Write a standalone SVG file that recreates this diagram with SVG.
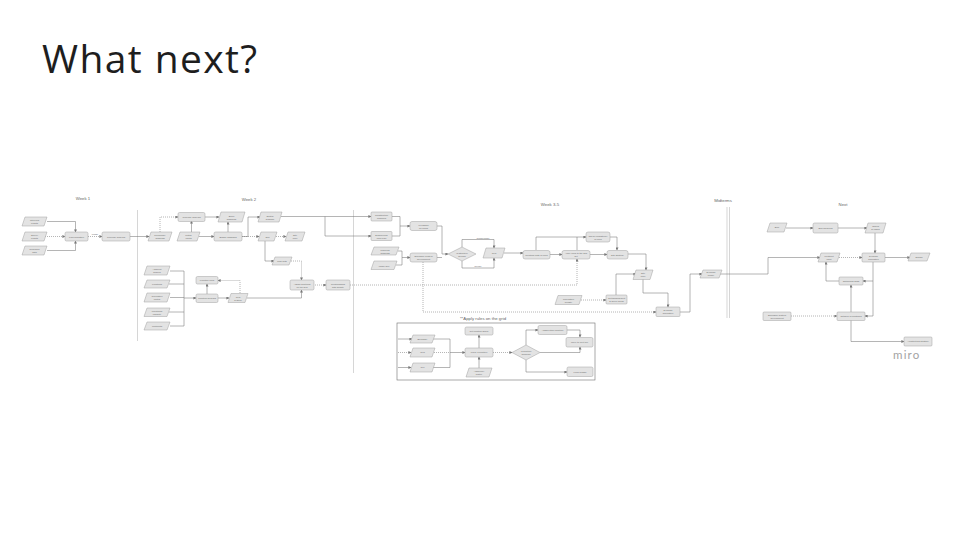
<svg xmlns="http://www.w3.org/2000/svg" width="960" height="540" viewBox="0 0 960 540">
<defs>
<marker id="ah" markerWidth="3" markerHeight="3" refX="2.6" refY="1.5" orient="auto" markerUnits="userSpaceOnUse"><path d="M0,0 L3,1.5 L0,3 z" fill="#777"/></marker>
<style>
.r{fill:#e3e3e3;stroke:#a0a0a0;stroke-width:0.5}
.p{fill:#e3e3e3;stroke:#a0a0a0;stroke-width:0.5}
.t{font-family:"Liberation Sans",Arial,sans-serif;font-size:2.3px;fill:#6a6a6a;text-anchor:middle}
.h{font-family:"Liberation Sans",Arial,sans-serif;font-size:4.3px;fill:#666;text-anchor:middle}
.c path{fill:none;stroke:#777;stroke-width:0.55}
.c .a{marker-end:url(#ah)}
.c .d{stroke-dasharray:1 1}
.dv{stroke:#c4c4c4;stroke-width:0.7}
</style>
</defs>
<rect width="960" height="540" fill="#fff"/>
<text x="42" y="73" font-family="'Open Sans',Lato,sans-serif" font-size="39" letter-spacing="1.4" fill="#1e1e1e">What next?</text>

<g id="dividers">
<line class="dv" x1="137.5" y1="210" x2="137.5" y2="341"/>
<line class="dv" x1="353.5" y1="210" x2="353.5" y2="373"/>
<line class="dv" x1="727" y1="207" x2="727" y2="318"/>
<line class="dv" x1="729.5" y1="207" x2="729.5" y2="318"/>
</g>
<g id="headers">
<text class="h" x="83" y="200">Week 1</text>
<text class="h" x="249" y="201">Week 2</text>
<text class="h" x="550" y="206">Week 3-5</text>
<text class="h" x="723" y="202">Midterms</text>
<text class="h" x="843" y="206">Next</text>
<text class="h" x="483" y="320" font-size="3.6">**Apply rules on the grid</text>
</g>

<g class="c" id="connectors">
<path class="a" d="M47,221.5 H75.5 V232"/>
<path class="a d" d="M45,236.5 H65"/>
<path class="a" d="M47,250.5 H75.5 V241"/>
<path class="a d" d="M88,236.5 H102"/>
<path class="a" d="M130,236.5 H149"/>
<path class="a d" d="M160,232 V217 H178"/>
<path class="a" d="M191.5,232 V221"/>
<path class="a" d="M199,236.5 H214"/>
<path class="a" d="M228,232 V222"/>
<path class="a" d="M205,217 H219"/>
<path class="a" d="M242,236.5 H248 V217 H260"/>
<path class="a d" d="M242,236.5 H259"/>
<path class="a d" d="M276,236.5 H286"/>
<path class="a" d="M265,241 V261 H274"/>
<path class="a d" d="M291,261 H301.5 V280"/>
<path class="a" d="M281,216.5 H371"/>
<path class="a" d="M325,216.5 V236 H371"/>
<path d="M170,271 H184 M169,284 H184 M170,297.5 H184 M169,312 H184 M170,326 H184 M184,271 V326"/>
<path class="a" d="M184,298 H196"/>
<path class="a" d="M207,294 V284"/>
<path class="a" d="M218,298 H229"/>
<path class="a d" d="M240,293 V280.5 H218"/>
<path class="a" d="M247,298 H301.5 V290"/>
<path class="a d" d="M313,285 H326"/>
<path class="a d" d="M350,285 H577 V259"/>
<path class="a" d="M392,216.5 H400 V226 H410"/>
<path d="M392,236 H400 V226"/>
<path class="a" d="M398,251 H402 V257.5 H410"/>
<path d="M396,265 H402 V257.5"/>
<path class="a" d="M437,226 H442 V254 H448"/>
<path d="M437,257.5 H442"/>
<path class="a" d="M462,247 V239.5 H494 V248"/>
<path class="a" d="M462,261 V268 H494 V258"/>
<path class="a" d="M504,253 H523"/>
<path class="a" d="M550,254.5 H562"/>
<path class="a" d="M590,254.5 H607"/>
<path class="a" d="M536,250 V237 H586"/>
<path d="M577,250 V237"/>
<path class="a" d="M610,237 H617 V250"/>
<path class="a" d="M627,254 H646 V270"/>
<path class="a" d="M643,279 V293 H668 V307"/>
<path class="a" d="M616,295 V274 H636"/>
<path class="a d" d="M581,300 H606"/>
<path class="a" d="M680,312 H690 V274 H702"/>
<path class="a d" d="M423,262 V312 H656"/>
<path class="a" d="M719,274 H768 V257.5 H820"/>
<path class="a" d="M398,339 H412"/>
<path class="a d" d="M398,352.5 H411"/>
<path class="a" d="M398,367.5 H411"/>
<path class="a" d="M433,339 H450 V352.5 H465"/>
<path d="M432,367.5 H450 V352.5"/>
<path class="d" d="M432,352.5 H450"/>
<path class="a" d="M479,348 V335"/>
<path class="a" d="M479,368 V357"/>
<path class="a d" d="M493,352.5 H512"/>
<path class="a" d="M526,345 V330 H538"/>
<path class="a" d="M540,352.5 H580 V347"/>
<path class="a" d="M567,330 H580 V337"/>
<path class="a" d="M526,360 V372 H567"/>
<path class="a" d="M786,228 H813"/>
<path class="a" d="M838,228 H867"/>
<path class="a" d="M875,233 V253"/>
<path class="a d" d="M839,257.5 H862"/>
<path class="a" d="M885,257.5 H910"/>
<path class="a" d="M873,262 V316 H865"/>
<path class="a" d="M873,281 H863"/>
<path class="a" d="M839,281 H826 V262"/>
<path class="a" d="M851,312 V285"/>
<path class="a d" d="M791,316 H837"/>
<path class="a" d="M851,320 V341.5 H904"/>
</g>
<g id="edge-labels">
<text class="t" x="95" y="235">phase</text>
<text class="t" x="483" y="238.5">Compromise</text>
<text class="t" x="478" y="267">Revise</text>
</g>

<g id="w1a"><polygon class="p" points="25,217 47,217 44,226 22,226"/><text class="t" x="34.5" y="221">Interview</text><text class="t" x="34.5" y="224">results</text></g>
<g id="w1b"><polygon class="p" points="25,232 47,232 44,241 22,241"/><text class="t" x="34.5" y="236">Survey</text><text class="t" x="34.5" y="239">results</text></g>
<g id="w1c"><polygon class="p" points="25,246 47,246 44,255 22,255"/><text class="t" x="34.5" y="250">Research</text><text class="t" x="34.5" y="253">data</text></g>
<g id="w1d"><rect class="r" x="65" y="232" width="23" height="9" rx="1.5"/><text class="t" x="76.5" y="237.5">Pain formation</text></g>
<g id="w1e"><rect class="r" x="102" y="232" width="28" height="9" rx="1.5"/><text class="t" x="116" y="237.5">Typology analysis</text></g>

<g id="t1"><rect class="r" x="178" y="212.5" width="27" height="9" rx="1.5"/><text class="t" x="191.5" y="218">Typology analysis</text></g>
<g id="t2"><polygon class="p" points="221,212 245,212 242,222 218,222"/><text class="t" x="231.5" y="216.5">Block</text><text class="t" x="231.5" y="219.5">diagrams</text></g>
<g id="t3"><polygon class="p" points="151,232 172,232 169,241 148,241"/><text class="t" x="160" y="236">Preliminary</text><text class="t" x="160" y="239">drawings</text></g>
<g id="t4"><polygon class="p" points="180,232 200,232 197,241 177,241"/><text class="t" x="188.5" y="236">Match</text><text class="t" x="188.5" y="239">inputs</text></g>
<g id="t5"><rect class="r" x="214" y="232" width="28" height="9" rx="1.5"/><text class="t" x="228" y="237.5">Bubble diagrams</text></g>
<g id="t6"><polygon class="p" points="261,212 282,212 279,222 258,222"/><text class="t" x="270" y="216.5">Spatial</text><text class="t" x="270" y="219.5">diagram</text></g>
<g id="t7"><polygon class="p" points="261,232 277,232 274,241 258,241"/><text class="t" x="267.5" y="237.5">Sun</text></g>
<g id="t8"><polygon class="p" points="288,232 305,232 302,241 285,241"/><text class="t" x="295" y="236">Site</text><text class="t" x="295" y="239">plan</text></g>
<g id="t9"><polygon class="p" points="275,257 292,257 289,265 272,265"/><text class="t" x="282" y="262">Plan sets</text></g>
<g id="l1"><polygon class="p" points="147,266 170,266 167,275 144,275"/><text class="t" x="157" y="270">Adjacent</text><text class="t" x="157" y="273">spaces</text></g>
<g id="l2"><polygon class="p" points="147,280 170,280 167,288 144,288"/><text class="t" x="157" y="285">Functions</text></g>
<g id="l3"><polygon class="p" points="147,293 170,293 167,302 144,302"/><text class="t" x="157" y="297">Circulation</text><text class="t" x="157" y="300">routes</text></g>
<g id="l4"><polygon class="p" points="147,308 170,308 167,316.5 144,316.5"/><text class="t" x="157" y="311.5">Functional</text><text class="t" x="157" y="314.5">capacity</text></g>
<g id="l5"><polygon class="p" points="147,322 170,322 167,330 144,330"/><text class="t" x="157" y="327">Footprints</text></g>
<g id="t10"><rect class="r" x="196" y="276.5" width="22" height="7.5" rx="1.5"/><text class="t" x="207" y="281">Function rules</text></g>
<g id="t11"><rect class="r" x="196" y="294" width="22" height="8.5" rx="1.5"/><text class="t" x="207" y="299">Function analysis</text></g>
<g id="t12"><polygon class="p" points="231,293.5 248,293.5 245,302.5 228,302.5"/><text class="t" x="238" y="297.5">Grid</text><text class="t" x="238" y="300.5">system</text></g>
<g id="t13"><rect class="r" x="290" y="280" width="24" height="10" rx="1.5"/><text class="t" x="302" y="284.5">Assign functions</text><text class="t" x="302" y="287.5">on the grid</text></g>
<g id="t14"><rect class="r" x="326" y="280" width="24" height="10" rx="1.5"/><text class="t" x="338" y="284.5">Relationships</text><text class="t" x="338" y="287.5">with density</text></g>

<g id="u1"><rect class="r" x="371" y="212" width="21" height="9" rx="1"/><text class="t" x="381.5" y="216">Construction</text><text class="t" x="381.5" y="219">mapping</text></g>
<g id="u2"><rect class="r" x="371" y="231.5" width="21" height="9" rx="1"/><text class="t" x="381.5" y="235.5">Engineering</text><text class="t" x="381.5" y="238.5">floor plan</text></g>
<g id="u3"><rect class="r" x="410" y="221.5" width="27" height="9" rx="2"/><text class="t" x="423.5" y="225.5">Feedback</text><text class="t" x="423.5" y="228.5">on floors</text></g>
<g id="u4"><polygon class="p" points="374,247 399,247 396,255 371,255"/><text class="t" x="385" y="250.5">Planning</text><text class="t" x="385" y="253.5">drawings</text></g>
<g id="u5"><polygon class="p" points="374,261 397,261 394,269.5 371,269.5"/><text class="t" x="384" y="266.5">Model gen</text></g>
<g id="u6"><rect class="r" x="410" y="253" width="27" height="9" rx="2"/><text class="t" x="423.5" y="257">Enclosure system</text><text class="t" x="423.5" y="260">development</text></g>
<g id="d1"><polygon class="p" points="448,254 462,247 476,254 462,261"/><text class="t" x="462" y="253.5">Is structure</text><text class="t" x="462" y="256.5">sound?</text></g>
<g id="u7"><polygon class="p" points="486,248 505,248 502,258 483,258"/><text class="t" x="494" y="254">Grid</text></g>
<g id="r1"><rect class="r" x="523" y="250.5" width="27" height="8.5" rx="2"/><text class="t" x="536.5" y="255.5">Creating units of rules</text></g>
<g id="r2"><rect class="r" x="562" y="250.5" width="28" height="8.5" rx="2"/><text class="t" x="576" y="254">Apply rules to the grid</text><text class="t" x="576" y="257">set</text></g>
<g id="r3"><rect class="r" x="607" y="250.5" width="21" height="8.5" rx="2"/><text class="t" x="617.5" y="255.5">Site strategy</text></g>
<g id="r4"><rect class="r" x="586" y="232" width="24" height="10" rx="2"/><text class="t" x="598" y="236.5">Check consistency</text><text class="t" x="598" y="239.5">of rules</text></g>
<g id="r5"><polygon class="p" points="636,270 653,270 650,279.5 633,279.5"/><text class="t" x="643" y="274">Site</text><text class="t" x="643" y="277">plan</text></g>
<g id="r6"><polygon class="p" points="558,295.5 582,295.5 579,304.5 555,304.5"/><text class="t" x="568.5" y="299.5">Population</text><text class="t" x="568.5" y="302.5">density</text></g>
<g id="r7"><rect class="r" x="606" y="295" width="21" height="9" rx="1"/><text class="t" x="616.5" y="299">Juxtaposing built</text><text class="t" x="616.5" y="302">&amp; green areas</text></g>
<g id="r8"><rect class="r" x="656" y="307" width="24" height="9.5" rx="1"/><text class="t" x="668" y="311">Dynamic</text><text class="t" x="668" y="314">simulation</text></g>
<g id="r9"><polygon class="p" points="703,270 722,270 719,278 700,278"/><text class="t" x="711" y="273.3">Dynamic</text><text class="t" x="711" y="276.3">model</text></g>

<g id="apply-rules">
<rect x="397" y="323" width="198" height="57" fill="none" stroke="#6f6f6f" stroke-width="0.6"/>
</g>
<g id="a1"><polygon class="p" points="413,335 435,335 432,343 410,343"/><text class="t" x="422.5" y="339.8">Boundary</text></g>
<g id="a2"><polygon class="p" points="413,348 435,348 432,357 410,357"/><text class="t" x="422.5" y="353.3">Grid</text></g>
<g id="a3"><polygon class="p" points="413,363 435,363 432,372 410,372"/><text class="t" x="422.5" y="368.3">Cell</text></g>
<g id="a4"><rect class="r" x="465" y="327" width="28" height="8" rx="1.5"/><text class="t" x="479" y="331.8">Get function space</text></g>
<g id="a5"><rect class="r" x="465" y="348" width="28" height="9" rx="1.5"/><text class="t" x="479" y="353.3">Place a function</text></g>
<g id="a6"><polygon class="p" points="469,368 492,368 489,377 466,377"/><text class="t" x="479" y="372">Adjacency</text><text class="t" x="479" y="375">matrix</text></g>
<g id="dd"><polygon class="p" points="512,352.5 526,345 540,352.5 526,360"/><text class="t" x="526" y="351.8">Is function</text><text class="t" x="526" y="354.6">allowed?</text></g>
<g id="a7"><rect class="r" x="538" y="325.5" width="29" height="9" rx="1.5"/><text class="t" x="552.5" y="330.8">Assign other function</text></g>
<g id="a8"><rect class="r" x="566" y="337.5" width="27" height="9.5" rx="1.5"/><text class="t" x="579.5" y="343">Move to next cell</text></g>
<g id="a9"><rect class="r" x="567" y="367" width="26" height="9.5" rx="1.5"/><text class="t" x="580" y="372.5">Form design</text></g>

<g id="n1"><polygon class="p" points="770,223 787,223 784,232 767,232"/><text class="t" x="777" y="228.3">Bulk</text></g>
<g id="n2"><rect class="r" x="813" y="223" width="25" height="10" rx="1.5"/><text class="t" x="825.5" y="228.8">Bird modeling</text></g>
<g id="n3"><polygon class="p" points="868,223 886,223 883,233 865,233"/><text class="t" x="875.5" y="227.3">Nodes</text><text class="t" x="875.5" y="230.3">&amp; edges</text></g>
<g id="n4"><polygon class="p" points="821,253 840,253 837,262 818,262"/><text class="t" x="829" y="257">Footprint</text><text class="t" x="829" y="260">input</text></g>
<g id="n5"><rect class="r" x="862" y="253" width="23" height="9" rx="1"/><text class="t" x="873.5" y="257">Dynamic</text><text class="t" x="873.5" y="260">simulation</text></g>
<g id="n6"><polygon class="p" points="911,253 930,253 927,261 908,261"/><text class="t" x="919" y="258">Design</text></g>
<g id="n7"><rect class="r" x="839" y="277" width="24" height="8" rx="1"/><text class="t" x="851" y="281.8">Optimizing grids</text></g>
<g id="n8"><rect class="r" x="763" y="312" width="28" height="8.5" rx="1"/><text class="t" x="777" y="315.5">Enclosure system</text><text class="t" x="777" y="318.5">development</text></g>
<g id="n9"><rect class="r" x="837" y="312" width="28" height="8.5" rx="1"/><text class="t" x="851" y="317">Network of frontages</text></g>
<g id="n10"><rect class="r" x="904" y="337" width="28" height="9" rx="1"/><text class="t" x="918" y="342.3">Architectural strategy</text></g>

<text x="893" y="359" font-family="Lato,'Open Sans',sans-serif" font-size="11.5" fill="#a3a3a3" letter-spacing="1.2">miro</text>
</svg>
